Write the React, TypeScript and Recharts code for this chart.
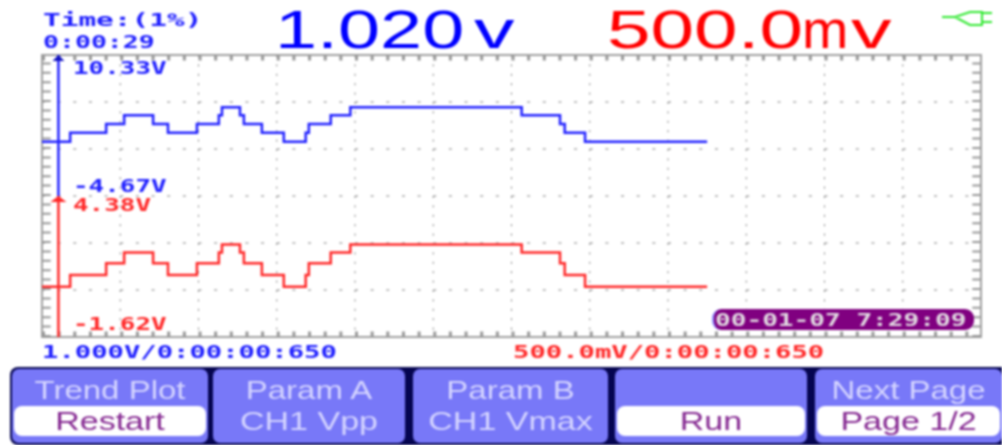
import React from 'react';
import { ComposedChart, Line, XAxis, YAxis, CartesianGrid, ReferenceLine, ReferenceDot, ReferenceArea } from 'recharts';

// time in graticule divisions, one value per step of the trend trace
const times = [0, 0.36, 0.82, 1.05, 1.42, 1.61, 1.98, 2.26, 2.3, 2.53, 2.58, 2.81, 3.09, 3.37, 3.41, 3.69, 3.94, 6.13, 6.62, 6.68, 6.94, 8.5];
const ch1Vpp = [1.11, 2.06, 2.99, 3.91, 2.99, 2.06, 2.99, 3.91, 4.77, 3.91, 2.99, 2.06, 1.11, 2.06, 2.99, 3.91, 4.77, 3.91, 2.99, 2.06, 1.11, 1.11];
const ch1Vmax = [0.52, 1.02, 1.52, 1.98, 1.52, 1.02, 1.52, 1.98, 2.32, 1.98, 1.52, 1.02, 0.52, 1.02, 1.52, 1.98, 2.32, 1.98, 1.52, 1.02, 0.52, 0.52];

const xDivisions = [1, 2, 3, 4, 5, 6, 7, 8, 9, 10, 11, 12];
const blueDomain = [-19.67, 10.33];
const redDomain = [-1.62, 10.38];
const blueTicks = [10.33, -4.67];
const redTicks = [4.38, -1.62];
const gridRows = [5.33, 0.33, -4.67, -9.67, -14.67];

const buttons = [
  { x: 12, w: 196, top: 'Trend Plot', bottom: 'Restart', pill: true },
  { x: 213, w: 192, top: 'Param A', bottom: 'CH1 Vpp', pill: false },
  { x: 413, w: 195, top: 'Param B', bottom: 'CH1 Vmax', pill: false },
  { x: 615, w: 192, top: '', bottom: 'Run', pill: true },
  { x: 815, w: 187, top: 'Next Page', bottom: 'Page 1/2', pill: true },
];

const chartData = times.map((t, i) => ({ t, a: ch1Vpp[i], b: ch1Vmax[i] }));

const SANS = '"Liberation Sans", Arial, sans-serif';
const MONO = '"DejaVu Sans Mono", monospace';
const BLUE = '#2020ff';
const RED = '#ff2828';
const GRID = '#808080';
const EDGE = '#989898';

function Txt({ x, cy, size, color, sx = 1, font = MONO, children }: any) {
  return (
    <div style={{
      position: 'absolute', left: x, top: cy, fontSize: size, color, fontFamily: font,
      fontWeight: font === MONO ? 'bold' : 'normal',
      lineHeight: 1, whiteSpace: 'pre', transform: `translateY(-50%) scaleX(${sx})`, transformOrigin: 'left center',
    }}>{children}</div>
  );
}

function Arrow({ cx, cy, color, half }: any) {
  return <polygon points={`${cx},${cy} ${cx + half},${cy + 6} ${cx - half},${cy + 6}`} fill={color} />;
}

function AxisLabel({ y, payload, color, offs }: any) {
  const dy = payload.index === 0 ? offs[0] : offs[1];
  const label = `${payload.value}V`;
  return (
    <text x={73} y={y + dy} fontFamily={MONO} fontWeight="bold" fontSize={17} fill={color} textLength={label.length * 15.6} lengthAdjust="spacingAndGlyphs" dominantBaseline="central">
      {label}
    </text>
  );
}

function Button({ x, w, top, bottom, pill }: any) {
  const labelStyle: any = { position: 'absolute', left: 0, width: w, textAlign: 'center', fontFamily: SANS, fontSize: 25, lineHeight: 1, whiteSpace: 'pre' };
  return (
    <div style={{ position: 'absolute', left: x, top: 369, width: w, height: 74, background: '#7878f8', borderRadius: 7 }}>
      {pill && <div style={{ position: 'absolute', left: 2, right: 2, top: 37, height: 30, background: '#fff', borderRadius: 8 }} />}
      <div style={{ ...labelStyle, top: 9, color: '#d4d4ff', transform: 'scaleX(1.32)' }}>{top}</div>
      <div style={{ ...labelStyle, top: 40, color: pill ? '#862a92' : '#d4d4ff', transform: 'scaleX(1.36)' }}>{bottom}</div>
    </div>
  );
}

export default function App() {
  return (
    <div style={{ position: 'absolute', left: 0, top: 0, width: 1002, height: 445, background: '#fff', overflow: 'hidden', filter: 'blur(0.8px)' }}>
      <ComposedChart width={1002} height={445} data={chartData} margin={{ top: 55, right: 21, bottom: 108, left: 42 }}>
        <XAxis dataKey="t" type="number" domain={[0, 12]} ticks={xDivisions} hide />
        <YAxis yAxisId="blue" domain={blueDomain} ticks={blueTicks} mirror width={1} axisLine={false} tickLine={false} interval={0}
          tick={(p: any) => <AxisLabel {...p} color={BLUE} offs={[13, -10]} />} />
        <YAxis yAxisId="red" domain={redDomain} ticks={redTicks} mirror width={1} axisLine={false} tickLine={false} interval={0}
          tick={(p: any) => <AxisLabel {...p} color={RED} offs={[9, -13]} />} />

        <CartesianGrid yAxisId="blue" vertical={false} horizontalValues={gridRows} stroke={GRID} strokeDasharray="3 12.65" />
        <CartesianGrid yAxisId="blue" horizontal={false} verticalValues={xDivisions} stroke={GRID} strokeDasharray="2 7.4" />

        {/* frame and its tick rows */}
        <ReferenceArea yAxisId="blue" x1={0} x2={12} y1={-19.67} y2={10.33} fill="none" stroke="#a0a0a0" strokeWidth={2} />
        <ReferenceLine yAxisId="blue" y={10.0} stroke={EDGE} strokeWidth={5} strokeDasharray="3 12.65" />
        <ReferenceLine yAxisId="blue" y={-19.35} stroke={EDGE} strokeWidth={5} strokeDasharray="3 12.65" />
        <ReferenceLine yAxisId="blue" x={0.06} stroke={EDGE} strokeWidth={8} strokeDasharray="2 7.4" />
        <ReferenceLine yAxisId="blue" x={11.94} stroke={EDGE} strokeWidth={8} strokeDasharray="2 7.4" />

        <ReferenceLine yAxisId="blue" segment={[{ x: 0.21, y: 10.33 }, { x: 0.21, y: -4.67 }]} stroke={BLUE} strokeWidth={2.5} />
        <ReferenceLine yAxisId="red" segment={[{ x: 0.21, y: 4.38 }, { x: 0.21, y: -1.62 }]} stroke={RED} strokeWidth={2.5} />
        <ReferenceDot yAxisId="blue" x={0.21} y={10.33} shape={(p: any) => <Arrow {...p} color="#1010c0" half={6} />} />
        <ReferenceDot yAxisId="red" x={0.21} y={4.38} shape={(p: any) => <Arrow {...p} color={RED} half={8} />} />

        <Line yAxisId="blue" dataKey="a" type="stepAfter" stroke={BLUE} strokeWidth={2.5} dot={false} isAnimationActive={false} />
        <Line yAxisId="red" dataKey="b" type="stepAfter" stroke={RED} strokeWidth={2.5} dot={false} isAnimationActive={false} />
      </ComposedChart>

      <Txt x={43} cy={20} size={17} color={BLUE} sx={1.73}>Time:(1%)</Txt>
      <Txt x={43} cy={42} size={17} color={BLUE} sx={1.56}>0:00:29</Txt>

      <Txt x={275} cy={29} size={54} color="#0000ff" sx={1.4} font={SANS}>1.020</Txt>
      <Txt x={474} cy={29} size={54} color="#0000ff" sx={1.5} font={SANS}>v</Txt>
      <Txt x={607} cy={29} size={54} color="#ff0000" sx={1.45} font={SANS}>500.0</Txt>
      <Txt x={802} cy={29} size={54} color="#ff0000" sx={1.03} font={SANS}>m</Txt>
      <Txt x={851} cy={29} size={54} color="#ff0000" sx={1.5} font={SANS}>v</Txt>

      <svg style={{ position: 'absolute', left: 0, top: 0 }} width={1002} height={60}>
        <path d="M942 17H955L970 12H982V25H970L955 17M982 13H992M982 22H992" fill="none" stroke="#30e830" strokeWidth={2} />
      </svg>

      <div style={{ position: 'absolute', left: 712, top: 309, width: 262, height: 21, background: '#800080', borderRadius: 9, borderLeft: '2px solid #8c8cff', boxSizing: 'border-box' }} />
      <Txt x={715} cy={320} size={17} color="#e0d8e0" sx={1.535}>00-01-07 7:29:09</Txt>

      <Txt x={42} cy={352} size={17} color={BLUE} sx={1.6}>1.000V/0:00:00:650</Txt>
      <Txt x={513} cy={352} size={17} color={RED} sx={1.6}>500.0mV/0:00:00:650</Txt>

      <div style={{ position: 'absolute', left: 10, top: 367, width: 992, height: 78, background: '#050550', borderRadius: '8px 0 0 8px' }} />
      {buttons.map(b => <Button key={b.x} {...b} />)}
    </div>
  );
}
